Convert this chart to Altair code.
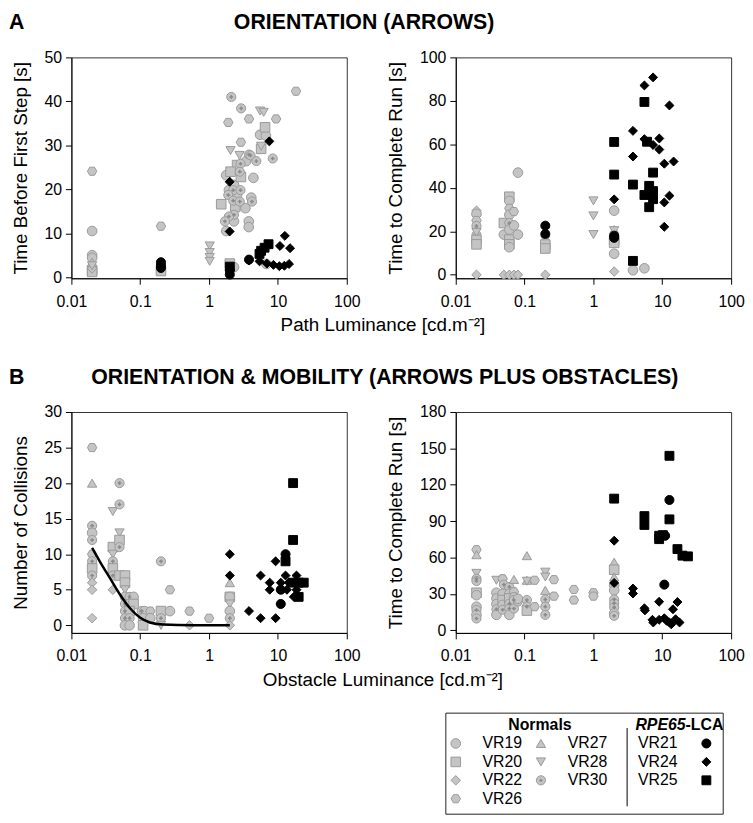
import altair as alt
import pandas as pd

FONT = "Liberation Sans"
GRAY_FILL = "#c4c4c4"
GRAY_STROKE = "#9a9a9a"

NORMALS = ["VR19", "VR20", "VR22", "VR26", "VR27", "VR28", "VR30"]
LCA = ["VR21", "VR24", "VR25"]
SUBJECTS = NORMALS + LCA
HEX = "M-1,0L-0.5,-0.866L0.5,-0.866L1,0L0.5,0.866L-0.5,0.866Z"
SHAPES = ["circle", "square", "diamond", HEX, "triangle-up", "triangle-down", "circle",
          "circle", "diamond", "square"]
FILLS = [GRAY_FILL] * 7 + ["#000000"] * 3
STROKES = [GRAY_STROKE] * 7 + ["#000000"] * 3
SIZES = [95, 80, 110, 110, 95, 95, 95, 120, 165, 105]

X_TICKS = [0.01, 0.1, 1, 10, 100]

# ---------------- data (subject, luminance, value) ----------------
a1_first_step = [
    ("VR19", 0.02, 10.5), ("VR19", 0.02, 5.0), ("VR19", 0.02, 4.4),
    ("VR19", 5.5, 32.4), ("VR19", 6.7, 32.2), ("VR19", 3.45, 26.4), ("VR19", 1.77, 23.2),
    ("VR19", 4.4, 22.6), ("VR19", 2.3, 21.0), ("VR19", 1.94, 19.8), ("VR19", 2.55, 18.7),
    ("VR19", 4.1, 18.1), ("VR19", 3.37, 15.7), ("VR19", 2.1, 13.3), ("VR19", 2.3, 12.7),
    ("VR19", 3.77, 12.7), ("VR19", 3.77, 11.4), ("VR19", 1.77, 10.5), ("VR19", 2.3, 2.3),
    ("VR19", 6.8, 3.0),
    ("VR20", 0.02, 1.6), ("VR20", 0.02, 1.2), ("VR20", 0.2, 1.4), ("VR20", 2.0, 3.1),
    ("VR20", 6.5, 34.1), ("VR20", 5.7, 29.2), ("VR20", 2.55, 25.5), ("VR20", 2.05, 24.0),
    ("VR20", 2.9, 22.8), ("VR20", 1.5, 16.6), ("VR20", 2.4, 16.0),
    ("VR22", 0.02, 2.0),
    ("VR26", 0.02, 24.1), ("VR26", 0.2, 11.6), ("VR26", 1.9, 35.2), ("VR26", 3.8, 36.0),
    ("VR26", 9.4, 36.0), ("VR26", 18.3, 42.3), ("VR26", 2.9, 30.7),
    ("VR27", 0.02, 3.4),
    ("VR28", 0.02, 2.6), ("VR28", 1.02, 7.1), ("VR28", 1.02, 5.6), ("VR28", 1.02, 4.5),
    ("VR28", 1.02, 3.6), ("VR28", 5.5, 37.8), ("VR28", 6.2, 37.5), ("VR28", 5.7, 29.8),
    ("VR28", 2.05, 28.8), ("VR28", 2.77, 27.7),
    ("VR30", 2.1, 41.0), ("VR30", 2.92, 38.4), ("VR30", 3.8, 27.9), ("VR30", 4.0, 27.7),
    ("VR30", 4.85, 26.4), ("VR30", 2.86, 25.8), ("VR30", 8.4, 27.0), ("VR30", 2.79, 24.0),
    ("VR30", 2.24, 19.8), ("VR30", 2.86, 19.8), ("VR30", 1.9, 18.7), ("VR30", 2.24, 17.4),
    ("VR30", 2.79, 17.2), ("VR30", 4.2, 17.2), ("VR30", 2.3, 14.2), ("VR30", 1.94, 13.8),
    ("VR30", 1.7, 12.7),
    ("VR21", 0.2, 3.4), ("VR21", 0.2, 2.7), ("VR21", 0.2, 2.1), ("VR21", 2.0, 0.6),
    ("VR21", 2.0, 1.6), ("VR21", 3.8, 4.0),
    ("VR24", 1.99, 21.7), ("VR24", 1.99, 10.4), ("VR24", 7.5, 30.9), ("VR24", 3.8, 3.8),
    ("VR24", 5.4, 3.6), ("VR24", 6.9, 3.1), ("VR24", 8.6, 2.8), ("VR24", 10.5, 2.5),
    ("VR24", 12.4, 2.6), ("VR24", 14.5, 3.0), ("VR24", 10.7, 7.1), ("VR24", 12.6, 9.4),
    ("VR24", 15.0, 6.6),
    ("VR25", 2.0, 2.4), ("VR25", 5.4, 5.3), ("VR25", 5.7, 6.0), ("VR25", 6.4, 6.7),
    ("VR25", 7.3, 7.5),
]

a2_complete_run = [
    ("VR22", 0.02, 29.5), ("VR19", 0.02, 28.0), ("VR26", 0.02, 25.0), ("VR30", 0.02, 22.5),
    ("VR27", 0.02, 20.5), ("VR28", 0.02, 19.5), ("VR20", 0.02, 16.0), ("VR20", 0.02, 14.0),
    ("VR22", 0.02, 0.0),
    ("VR20", 0.05, 23.8), ("VR19", 0.05, 18.5), ("VR22", 0.05, 0.0),
    ("VR20", 0.06, 35.9), ("VR19", 0.06, 34.0), ("VR26", 0.06, 30.6), ("VR19", 0.06, 27.6),
    ("VR30", 0.06, 23.8), ("VR19", 0.06, 20.8), ("VR20", 0.06, 16.2), ("VR20", 0.06, 14.0),
    ("VR19", 0.06, 12.7), ("VR22", 0.06, 0.0),
    ("VR26", 0.07, 29.1), ("VR19", 0.07, 22.7), ("VR22", 0.07, 0.0),
    ("VR19", 0.08, 47.0), ("VR19", 0.08, 18.5), ("VR22", 0.08, 0.0),
    ("VR27", 0.2, 16.5), ("VR28", 0.2, 16.0), ("VR20", 0.2, 13.9), ("VR20", 0.2, 12.1),
    ("VR22", 0.2, 0.0),
    ("VR28", 1.0, 34.0), ("VR28", 1.0, 27.1), ("VR28", 1.0, 18.5),
    ("VR19", 2.0, 29.5), ("VR27", 2.0, 20.8), ("VR28", 2.0, 20.3), ("VR20", 2.0, 16.0),
    ("VR20", 2.0, 14.7), ("VR19", 2.0, 9.7), ("VR22", 2.0, 1.5),
    ("VR19", 3.75, 2.1), ("VR19", 5.5, 3.0),
    ("VR21", 0.2, 22.6), ("VR21", 0.2, 18.8), ("VR21", 2.0, 18.0), ("VR21", 2.0, 17.0),
    ("VR24", 2.0, 34.7), ("VR24", 3.75, 66.2), ("VR24", 3.75, 54.4), ("VR24", 5.5, 87.1),
    ("VR24", 7.35, 90.8), ("VR24", 5.5, 62.4), ("VR24", 7.35, 59.7), ("VR24", 9.05, 62.7),
    ("VR24", 9.05, 57.6), ("VR24", 10.7, 51.1), ("VR24", 14.6, 52.1), ("VR24", 12.7, 77.9),
    ("VR24", 10.7, 33.3), ("VR24", 12.7, 36.4), ("VR24", 10.7, 22.1),
    ("VR25", 2.0, 61.1), ("VR25", 2.0, 46.1), ("VR25", 3.75, 41.5), ("VR25", 3.75, 6.4),
    ("VR25", 5.5, 79.5), ("VR25", 6.0, 61.2), ("VR25", 7.35, 47.0), ("VR25", 6.45, 40.9),
    ("VR25", 7.35, 38.5), ("VR25", 5.5, 36.7), ("VR25", 7.35, 34.8), ("VR25", 6.45, 31.1),
]

b1_collisions = [
    ("VR26", 0.02, 25), ("VR27", 0.02, 20), ("VR30", 0.02, 14), ("VR19", 0.02, 13),
    ("VR30", 0.02, 12), ("VR26", 0.02, 10), ("VR30", 0.02, 9), ("VR20", 0.02, 8),
    ("VR30", 0.02, 7), ("VR22", 0.02, 6), ("VR22", 0.02, 5), ("VR22", 0.02, 1),
    ("VR28", 0.04, 16), ("VR20", 0.04, 11), ("VR28", 0.04, 10), ("VR30", 0.04, 9),
    ("VR20", 0.04, 8), ("VR30", 0.04, 7), ("VR22", 0.04, 5),
    ("VR30", 0.05, 20), ("VR30", 0.05, 17), ("VR28", 0.05, 13), ("VR20", 0.05, 12),
    ("VR30", 0.05, 11), ("VR20", 0.05, 7),
    ("VR20", 0.06, 7), ("VR20", 0.06, 6), ("VR28", 0.06, 5), ("VR19", 0.06, 4),
    ("VR30", 0.07, 4), ("VR19", 0.08, 4), ("VR30", 0.06, 3), ("VR19", 0.07, 3),
    ("VR20", 0.08, 3), ("VR30", 0.06, 2), ("VR20", 0.07, 2), ("VR30", 0.06, 1),
    ("VR30", 0.07, 1), ("VR19", 0.06, 0), ("VR19", 0.07, 0),
    ("VR30", 0.105, 2), ("VR19", 0.115, 2), ("VR26", 0.14, 2), ("VR19", 0.11, 1),
    ("VR19", 0.14, 1), ("VR20", 0.11, 0),
    ("VR30", 0.2, 9), ("VR20", 0.2, 2), ("VR30", 0.2, 1), ("VR28", 0.2, 0),
    ("VR26", 0.27, 5), ("VR19", 0.27, 2), ("VR26", 0.52, 2), ("VR22", 0.52, 0),
    ("VR26", 1.0, 1),
    ("VR27", 2.0, 6), ("VR20", 2.0, 4), ("VR19", 2.0, 4), ("VR28", 2.0, 3), ("VR19", 2.0, 2),
    ("VR30", 2.0, 1), ("VR22", 2.0, 0),
    ("VR24", 2.0, 10), ("VR24", 2.0, 7), ("VR24", 3.8, 2), ("VR24", 5.6, 7), ("VR24", 5.6, 1),
    ("VR24", 7.6, 6), ("VR24", 7.6, 5), ("VR24", 9.25, 9), ("VR24", 9.25, 1), ("VR24", 11.0, 6),
    ("VR24", 12.9, 7), ("VR24", 14.4, 6), ("VR24", 18.6, 7), ("VR24", 18.6, 5), ("VR24", 13.5, 5),
    ("VR24", 17.0, 4),
    ("VR21", 12.9, 10), ("VR21", 11.0, 5), ("VR21", 11.0, 3),
    ("VR25", 16.6, 20), ("VR25", 16.6, 12), ("VR25", 12.9, 9), ("VR25", 16.6, 6),
    ("VR25", 20.0, 6), ("VR25", 23.7, 6), ("VR25", 20.0, 4),
]

# fitted curve in panel B (collisions)
b1_fit_lum = [0.02, 0.0262, 0.0365, 0.051, 0.071, 0.099, 0.138, 0.215, 0.58, 2.0]
b1_fit_val = [10.9, 8.9, 6.6, 4.3, 2.4, 1.1, 0.4, 0.1, 0.0, 0.0]

b2_complete_run = [
    ("VR26", 0.02, 66.5), ("VR27", 0.02, 62.4), ("VR28", 0.02, 47.0), ("VR30", 0.02, 42.6),
    ("VR30", 0.02, 40.7), ("VR20", 0.02, 31.0), ("VR19", 0.02, 29.0), ("VR19", 0.02, 19.5),
    ("VR30", 0.02, 16.8), ("VR19", 0.02, 12.8), ("VR30", 0.02, 9.8),
    ("VR28", 0.039, 41.3), ("VR19", 0.039, 31.0), ("VR19", 0.039, 26.3), ("VR19", 0.039, 21.7),
    ("VR30", 0.039, 17.4), ("VR19", 0.039, 12.8),
    ("VR26", 0.048, 42.6), ("VR30", 0.05, 37.7), ("VR19", 0.048, 30.0), ("VR20", 0.048, 25.0),
    ("VR19", 0.048, 21.0), ("VR30", 0.048, 17.0),
    ("VR30", 0.06, 35.8), ("VR19", 0.06, 30.0), ("VR20", 0.06, 26.3), ("VR30", 0.06, 22.0),
    ("VR30", 0.06, 18.0), ("VR19", 0.06, 12.8),
    ("VR27", 0.07, 42.0), ("VR26", 0.07, 31.8), ("VR26", 0.07, 27.7), ("VR30", 0.07, 25.0),
    ("VR30", 0.07, 18.0), ("VR26", 0.08, 23.6), ("VR19", 0.08, 26.0),
    ("VR27", 0.108, 61.6), ("VR27", 0.108, 41.3), ("VR28", 0.108, 40.5), ("VR30", 0.108, 25.0),
    ("VR30", 0.108, 19.5), ("VR20", 0.108, 16.3),
    ("VR26", 0.14, 41.3), ("VR26", 0.14, 19.5),
    ("VR28", 0.2, 48.0), ("VR28", 0.2, 44.0), ("VR27", 0.2, 33.0), ("VR30", 0.2, 25.5),
    ("VR30", 0.2, 19.5), ("VR30", 0.2, 12.8),
    ("VR26", 0.267, 41.8), ("VR26", 0.267, 28.2), ("VR26", 0.52, 33.7), ("VR26", 0.52, 25.0),
    ("VR26", 1.0, 31.0), ("VR26", 1.0, 28.2),
    ("VR27", 2.0, 56.2), ("VR20", 2.0, 50.0), ("VR27", 2.0, 44.0), ("VR19", 2.0, 37.2),
    ("VR19", 2.0, 33.0), ("VR30", 2.0, 25.5), ("VR30", 2.0, 22.3), ("VR30", 2.0, 19.0),
    ("VR19", 2.0, 14.0), ("VR30", 2.0, 12.0),
    ("VR24", 2.0, 73.9), ("VR24", 2.0, 39.1), ("VR24", 3.75, 34.5), ("VR24", 3.75, 30.4),
    ("VR24", 5.5, 18.2), ("VR24", 5.6, 16.5), ("VR24", 9.0, 23.6), ("VR24", 7.2, 8.7),
    ("VR24", 7.4, 6.5), ("VR24", 9.0, 8.7), ("VR24", 10.7, 10.0), ("VR24", 12.7, 6.5),
    ("VR24", 15.6, 9.2), ("VR24", 17.8, 6.5), ("VR24", 14.3, 17.4), ("VR24", 16.6, 23.4),
    ("VR24", 11.5, 8.0), ("VR24", 13.5, 5.0),
    ("VR21", 12.7, 107.5), ("VR21", 10.7, 37.7), ("VR21", 11.0, 78.0),
    ("VR25", 12.7, 143.9), ("VR25", 2.0, 108.6), ("VR25", 5.5, 94.2), ("VR25", 5.5, 86.9),
    ("VR25", 9.0, 78.0), ("VR25", 9.0, 75.2), ("VR25", 10.2, 78.5), ("VR25", 12.7, 91.5),
    ("VR25", 16.6, 67.0), ("VR25", 19.6, 61.6), ("VR25", 23.6, 61.0),
]

LEG_COL1 = ["VR19", "VR20", "VR22", "VR26"]
LEG_COL2 = ["VR27", "VR28", "VR30"]
LEG_COL3 = ["VR21", "VR24", "VR25"]

# ---------------- helpers ----------------
shape_enc = alt.Shape("subject:N", scale=alt.Scale(domain=SUBJECTS, range=SHAPES), legend=None)
fill_enc = alt.Fill("subject:N", scale=alt.Scale(domain=SUBJECTS, range=FILLS), legend=None)
stroke_enc = alt.Stroke("subject:N", scale=alt.Scale(domain=SUBJECTS, range=STROKES), legend=None)
size_enc = alt.Size("subject:N", scale=alt.Scale(domain=SUBJECTS, range=SIZES), legend=None)

PW, PH = 278, 223


def panel(rows, ydomain, yticks, ytitle, xtitle, title, fit=None):
    df = pd.DataFrame(rows, columns=["subject", "lum", "val"])
    df["grp"] = ["lca" if s in LCA else "normal" for s in df["subject"]]
    x = alt.X("lum:Q", scale=alt.Scale(type="log", domain=[0.01, 100], nice=False),
              axis=alt.Axis(values=X_TICKS, format="~g", title=xtitle, labelPadding=9,
                            labelFlush=False, titleX=314, titleY=53,
                            titleBaseline="alphabetic"))
    y = alt.Y("val:Q", scale=alt.Scale(domain=ydomain, nice=False, zero=False),
              axis=alt.Axis(values=yticks, title=ytitle, labelPadding=4, titlePadding=14))
    base = alt.Chart(df)
    enc = dict(x=x, y=y, shape=shape_enc, fill=fill_enc, stroke=stroke_enc, size=size_enc)
    gray = base.transform_filter(alt.datum.grp == "normal").mark_point(
        filled=True, opacity=1, strokeWidth=1).encode(**enc)
    cross = base.transform_filter(alt.datum.subject == "VR30").mark_point(
        shape="cross", filled=True, size=14, color="#8a8a8a", opacity=1).encode(x=x, y=y)
    black = base.transform_filter(alt.datum.grp == "lca").mark_point(
        filled=True, opacity=1, strokeWidth=1).encode(**enc)
    layers = [gray, cross]
    if fit is not None:
        fdf = pd.DataFrame({"lum": fit[0], "val": fit[1]})
        layers.append(alt.Chart(fdf).mark_line(color="black", strokeWidth=2.5,
                                               interpolate="monotone").encode(x=x, y=y))
    layers.append(black)
    return alt.layer(*layers).properties(width=PW, height=PH, title=title)


def ttl(text, dx, offset):
    return alt.TitleParams(text, anchor="start", frame="group", dx=dx, offset=offset,
                           fontSize=21.5, fontWeight="bold", font=FONT, color="#000000")


XT_A = "Path Luminance [cd.m⁻²]"
XT_B = "Obstacle Luminance [cd.m⁻²]"
T_OFF = 16

A_left = panel(a1_first_step, [-0.25, 50], [0, 10, 20, 30, 40, 50],
               "Time Before First Step [s]", XT_A, ttl("A", -63, T_OFF))
A_right = panel(a2_complete_run, [-1.6, 100], [0, 20, 40, 60, 80, 100],
                "Time to Complete Run [s]", "", ttl("ORIENTATION (ARROWS)", -224, T_OFF))
B_left = panel(b1_collisions, [-1.07, 30], [0, 5, 10, 15, 20, 25, 30],
               "Number of Collisions", XT_B, ttl("B", -63, T_OFF), fit=(b1_fit_lum, b1_fit_val))
B_right = panel(b2_complete_run, [-2.1, 180], [0, 30, 60, 90, 120, 150, 180],
                "Time to Complete Run [s]", "",
                ttl("ORIENTATION & MOBILITY (ARROWS PLUS OBSTACLES)", -368, T_OFF))

# ---------------- legend (drawn as its own small view in the third grid row) ----------------
leg_rows = []
for i, s in enumerate(LEG_COL1):
    leg_rows.append({"subject": s, "row": i + 1, "col": 1})
for i, s in enumerate(LEG_COL2):
    leg_rows.append({"subject": s, "row": i + 1, "col": 2})
for i, s in enumerate(LEG_COL3):
    leg_rows.append({"subject": s, "row": i + 1, "col": 3})
leg_df = pd.DataFrame(leg_rows)

LEG_VIEW_H = 10
ROW_STEP = 18.6
ROW0 = -42.0        # pixel of header row relative to this view's top
ly = alt.Y("row:Q", scale=alt.Scale(domain=[-ROW0 / ROW_STEP, (LEG_VIEW_H - ROW0) / ROW_STEP],
                                    reverse=True), axis=None)
LX = 378            # left edge of legend box relative to the column origin
lbase = alt.Chart(leg_df)
LSIZES = [70, 60, 75, 80, 65, 65, 70, 95, 120, 75]
lsize = alt.Size("subject:N", scale=alt.Scale(domain=SUBJECTS, range=LSIZES), legend=None)


def leg_sym(col, xpos):
    return lbase.transform_filter(alt.datum.col == col).mark_point(
        filled=True, opacity=1, strokeWidth=1).encode(
        x=alt.value(LX + xpos), y=ly, shape=shape_enc, fill=fill_enc, stroke=stroke_enc,
        size=lsize)


def leg_lab(col, xpos):
    return lbase.transform_filter(alt.datum.col == col).mark_text(
        align="left", baseline="middle", font=FONT, fontSize=16, color="#000").encode(
        x=alt.value(LX + xpos), y=ly, text="subject:N")


hdr = pd.DataFrame({"row": [0], "t1": ["Normals"], "t2": ["RPE65"], "t3": ["-LCA"]})
hbase = alt.Chart(hdr)
legend = alt.layer(
    hbase.mark_rect(filled=False, stroke="#222", strokeWidth=1).encode(
        x=alt.value(LX), x2=alt.value(LX + 280), y=alt.value(-54), y2=alt.value(48)),
    leg_sym(1, 10), leg_lab(1, 37),
    leg_sym(2, 96), lbase.transform_filter(alt.datum.subject == "VR30").mark_point(
        shape="cross", filled=True, size=10, color="#8a8a8a", opacity=1).encode(
        x=alt.value(LX + 96), y=ly),
    leg_lab(2, 123),
    leg_lab(3, 194), leg_sym(3, 263),
    hbase.mark_text(align="center", baseline="middle", font=FONT, fontSize=16,
                    fontWeight="bold", color="#000").encode(x=alt.value(LX + 95), y=ly, text="t1:N"),
    hbase.mark_text(align="right", baseline="middle", font=FONT, fontSize=16,
                    fontWeight="bold", fontStyle="italic", color="#000").encode(
        x=alt.value(LX + 242), y=ly, text="t2:N"),
    hbase.mark_text(align="left", baseline="middle", font=FONT, fontSize=16,
                    fontWeight="bold", color="#000").encode(x=alt.value(LX + 242), y=ly, text="t3:N"),
    hbase.mark_rule(color="#000", strokeWidth=1).encode(
        x=alt.value(LX + 183), y=alt.value(-39), y2=alt.value(40)),
).properties(width=PW, height=LEG_VIEW_H, view=alt.ViewBackground(strokeOpacity=0))

chart = alt.concat(
    A_left, A_right, B_left, B_right, legend,
    columns=2, spacing={"row": 135, "column": 110}, bounds="flush"
).properties(
    padding={"left": 0, "top": 0, "right": 0, "bottom": 0}
).configure_axis(
    domainColor="#000", tickColor="#000", tickSize=6, labelFont=FONT, labelFontSize=16,
    labelColor="#000", titleFont=FONT, titleFontSize=19, titleFontWeight="normal",
    titleColor="#000", grid=False, domainWidth=1, tickWidth=1
).configure_view(stroke="#333", strokeWidth=1)

chart.save("out.html", embed_options={"renderer": "svg", "actions": False})
